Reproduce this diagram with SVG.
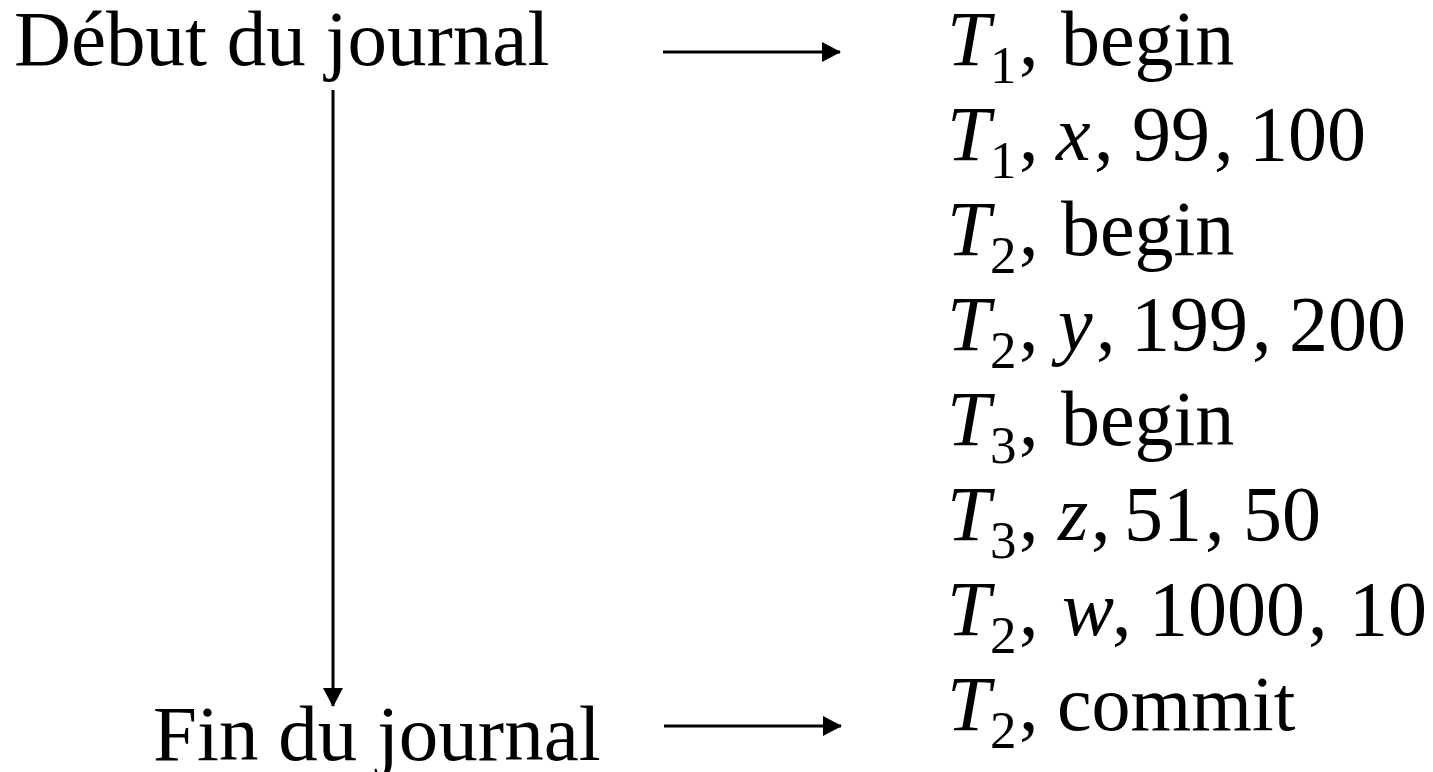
<svg xmlns="http://www.w3.org/2000/svg" width="1433" height="772" viewBox="0 0 1433 772">
<style>
text{font-family:"Liberation Serif","Times New Roman",serif;font-size:78px;fill:#000}
.lbl{font-size:79px}
.i{font-style:italic}
.s{font-size:53px}
.ln{stroke:#000;stroke-width:3;fill:none}
</style>
<defs>
<marker id="ah" viewBox="0 0 19 20" refX="18" refY="10" markerWidth="19" markerHeight="20" markerUnits="userSpaceOnUse" orient="auto">
<path d="M0,0L19,10L0,20z" fill="#000"/>
</marker>
</defs>
<rect width="1433" height="772" fill="#fff"/>
<g id="debut"><text class="lbl" x="14" y="65">Début du journal</text></g>
<g id="fin"><text class="lbl" x="153" y="760">Fin du journal</text></g>
<g id="connectors">
<line class="ln" x1="663" y1="52" x2="840" y2="52" marker-end="url(#ah)"/>
<line class="ln" x1="664" y1="726" x2="841" y2="726" marker-end="url(#ah)"/>
<line class="ln" x1="333" y1="90" x2="333" y2="706" marker-end="url(#ah)"/>
</g>
<g id="log">
<text y="65"><tspan class="i" x="947">T</tspan><tspan class="s" x="990" dy="18">1</tspan><tspan x="1019" dy="-18">,</tspan><tspan x="1061">begin</tspan></text>
<text y="160"><tspan class="i" x="947">T</tspan><tspan class="s" x="990" dy="18">1</tspan><tspan x="1019" dy="-18">,</tspan><tspan class="i" x="1056">x</tspan><tspan x="1094">,</tspan><tspan x="1132">99</tspan><tspan x="1214">,</tspan><tspan x="1249">100</tspan></text>
<text y="255"><tspan class="i" x="947">T</tspan><tspan class="s" x="990" dy="18">2</tspan><tspan x="1019" dy="-18">,</tspan><tspan x="1061">begin</tspan></text>
<text y="350"><tspan class="i" x="947">T</tspan><tspan class="s" x="990" dy="18">2</tspan><tspan x="1019" dy="-18">,</tspan><tspan class="i" x="1058">y</tspan><tspan x="1096">,</tspan><tspan x="1131">199</tspan><tspan x="1252">,</tspan><tspan x="1289">200</tspan></text>
<text y="445"><tspan class="i" x="947">T</tspan><tspan class="s" x="990" dy="18">3</tspan><tspan x="1019" dy="-18">,</tspan><tspan x="1061">begin</tspan></text>
<text y="540"><tspan class="i" x="947">T</tspan><tspan class="s" x="990" dy="18">3</tspan><tspan x="1019" dy="-18">,</tspan><tspan class="i" x="1058">z</tspan><tspan x="1091">,</tspan><tspan x="1124">51</tspan><tspan x="1205">,</tspan><tspan x="1243">50</tspan></text>
<text y="635"><tspan class="i" x="947">T</tspan><tspan class="s" x="990" dy="18">2</tspan><tspan x="1019" dy="-18">,</tspan><tspan class="i" x="1062">w</tspan><tspan x="1112">,</tspan><tspan x="1149">1000</tspan><tspan x="1308">,</tspan><tspan x="1349">10</tspan></text>
<text y="730"><tspan class="i" x="947">T</tspan><tspan class="s" x="990" dy="18">2</tspan><tspan x="1019" dy="-18">,</tspan><tspan x="1057">commit</tspan></text>
</g>
</svg>
